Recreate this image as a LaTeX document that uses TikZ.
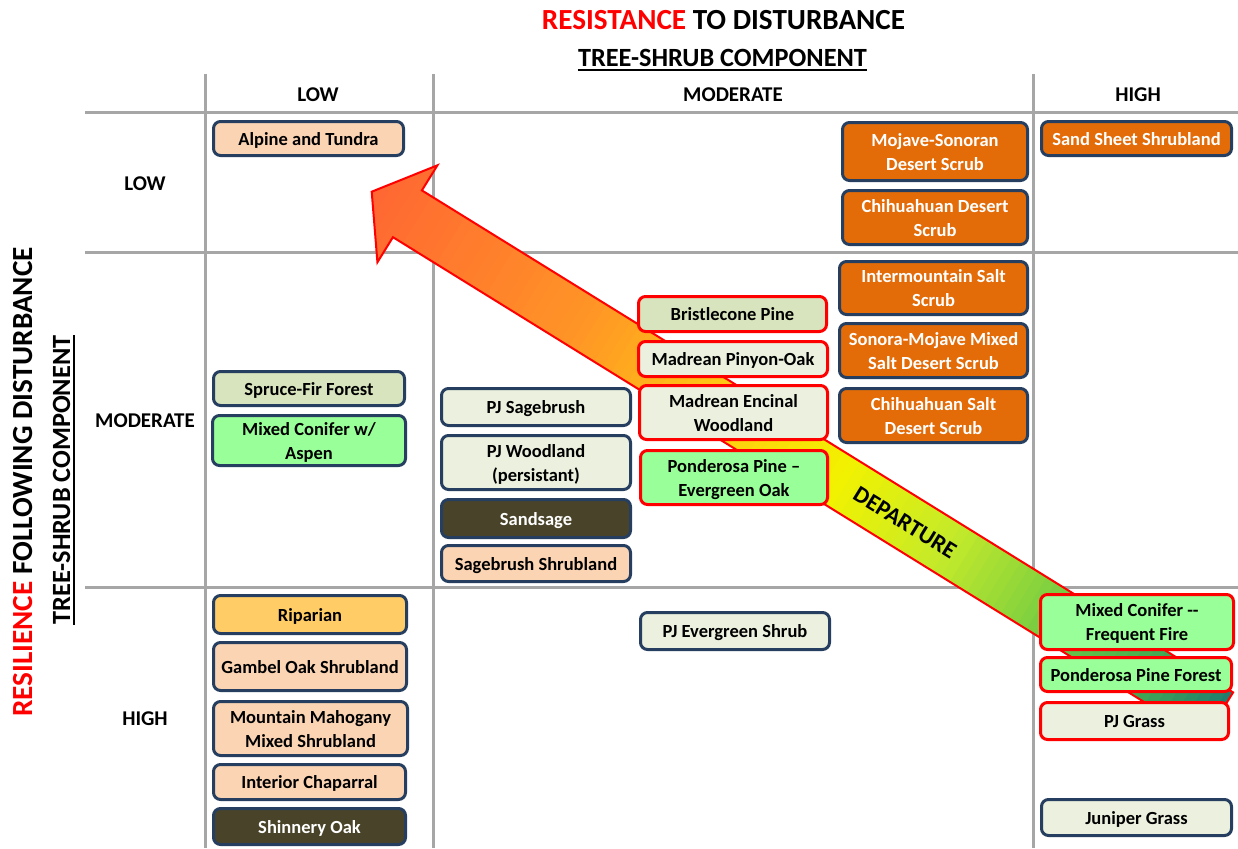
\documentclass[tikz,border=0pt]{standalone}
\usepackage{fontspec}
\setmainfont{Carlito}
\definecolor{navy}{HTML}{263F60}
\definecolor{gridgray}{HTML}{A6A6A6}
\definecolor{peach}{HTML}{FBD4B4}
\definecolor{orng}{HTML}{E36C09}
\definecolor{olive}{HTML}{D7E4BD}
\definecolor{lgreen}{HTML}{99FF99}
\definecolor{pale}{HTML}{EBF1DE}
\definecolor{darkol}{HTML}{494429}
\definecolor{golden}{HTML}{FFCC66}
\definecolor{g0}{HTML}{FF6633}
\definecolor{g1}{HTML}{FF9526}
\definecolor{g2}{HTML}{FFCC11}
\definecolor{g3}{HTML}{F2F200}
\definecolor{g4}{HTML}{C4EA2A}
\definecolor{g5}{HTML}{6CC845}
\definecolor{g6}{HTML}{4AB24E}
\definecolor{g7}{HTML}{1E7A70}
\newcommand\boxfont{\fontsize{18.5}{24}\selectfont\bfseries}
\newcommand\hdrfont{\fontsize{21}{25}\selectfont\bfseries}
\newcommand\ttlfont{\fontsize{29.2}{34}\selectfont\bfseries}
\newcommand\subfont{\fontsize{26.3}{31}\selectfont\bfseries}
\newcommand\topstrut{\rule{0pt}{18.8pt}}
\newcommand\botstrut{\rule[-5.2pt]{0pt}{5.2pt}}
\tikzset{
  gridline/.style={draw=gridgray, line width=3pt},
  bx/.style={rounded corners=7pt, line width=3pt, align=center, inner sep=0pt, font=\boxfont, text=black},
  nb/.style={bx, draw=navy},
  rb/.style={bx, draw=red},
  hdr/.style={font=\hdrfont, inner sep=0pt},
}
\newcommand\bx[8]{\node[#6, fill=#7, minimum width={(#4-#2)*1pt-3pt}, minimum height={(#5-#3)*1pt-3pt}] (#1) at ({(#2+#4)/2},{(#3+#5)/2}) {\topstrut #8\botstrut};}
\newcommand\gseg[5]{\foreach \k in {1,...,#5}{%
  \pgfmathsetmacro\xa{#1+(#2-#1)*(\k-1)/#5}%
  \pgfmathsetmacro\xb{#1+(#2-#1)*\k/#5+1}%
  \pgfmathtruncatemacro\pp{100*(\k-0.5)/#5}%
  \fill[#4!\pp!#3] (\xa,-70) rectangle (\xb,70);}}
\begin{document}
\begin{tikzpicture}[x=1pt,y=-1pt]
\useasboundingbox (0,0) rectangle (1238,848);
\fill[white] (0,0) rectangle (1238,848);
% grid
\draw[gridline] (85,113) -- (1238,113);
\draw[gridline] (85,252) -- (1238,252);
\draw[gridline] (85,587) -- (1238,587);
\draw[gridline] (205,74) -- (205,848);
\draw[gridline] (433,74) -- (433,848);
\draw[gridline] (1033,74) -- (1033,848);
% titles
\node[font=\ttlfont, inner sep=0pt] (title) at (723.5,20.5) {{\color{red}RESISTANCE} TO DISTURBANCE};
\node[font=\subfont, inner sep=0pt] (sub) at (722.5,57.5) {TREE-SHRUB COMPONENT};
\draw[line width=1.8pt] ([yshift=-4pt]sub.base west) -- ([yshift=-4pt]sub.base east);
\node[font=\ttlfont, inner sep=0pt, rotate=90] (vres) at (23,482) {{\color{red}RESILIENCE} FOLLOWING DISTURBANCE};
\node[font=\subfont, inner sep=0pt, rotate=90] (vsub) at (61.5,480) {TREE-SHRUB COMPONENT};
\draw[line width=1.8pt] ([xshift=4pt]vsub.base west) -- ([xshift=4pt]vsub.base east);
% headers
\node[hdr] (cl) at (318,94.5) {LOW};
\node[hdr] (cm) at (733,94.5) {MODERATE};
\node[hdr] (ch) at (1138,94.5) {HIGH};
\node[hdr] (rl) at (145,184) {LOW};
\node[hdr] (rm) at (145,421) {MODERATE};
\node[hdr] (rh) at (145,719) {HIGH};
% arrow
\begin{scope}[shift={(371.7,191.7)}, rotate=-31.75]
  \begin{scope}
    \clip (0,0) -- (42,-57) -- (42,-27.5) -- (996,-27.5) -- (996,27.5) -- (42,27.5) -- (42,57) -- cycle;
    \gseg{-5}{249}{g0}{g1}{26}
    \gseg{249}{418}{g1}{g2}{17}
    \gseg{418}{548}{g2}{g3}{13}
    \gseg{548}{677}{g3}{g4}{13}
    \gseg{677}{817}{g4}{g5}{14}
    \gseg{817}{896}{g5}{g6}{8}
    \gseg{896}{1000}{g6}{g7}{10}
  \end{scope}
  \draw[red, line width=2pt, line join=miter] (0,0) -- (42,-57) -- (42,-27.5) -- (996,-27.5) -- (996,27.5) -- (42,27.5) -- (42,57) -- cycle;
\end{scope}
\node[font=\fontsize{23.5}{28}\selectfont\bfseries, rotate=-31.75, inner sep=0pt] (dep) at (905,523) {DEPARTURE};
% boxes
\bx{alp}{212}{120}{405}{157}{nb}{peach}{Alpine and Tundra}
\bx{moj}{841}{121}{1029}{182}{nb,text=white}{orng}{Mojave-Sonoran\\Desert Scrub}
\bx{chd}{841}{189}{1029}{246}{nb,text=white}{orng}{Chihuahuan Desert\\Scrub}
\bx{sand}{1040}{120}{1233}{157}{nb,text=white}{orng}{Sand Sheet Shrubland}
\bx{ims}{838}{260}{1029}{316}{nb,text=white}{orng}{Intermountain Salt\\Scrub}
\bx{smx}{838}{322}{1029}{379}{nb,text=white}{orng}{Sonora-Mojave Mixed\\Salt Desert Scrub}
\bx{chs}{838}{387}{1029}{444}{nb,text=white}{orng}{Chihuahuan Salt\\Desert Scrub}
\bx{spf}{212}{370}{406}{407}{nb}{olive}{Spruce-Fir Forest}
\bx{mca}{211}{414}{407}{467}{nb}{lgreen}{Mixed Conifer w/\\Aspen}
\bx{pjs}{440}{387}{632}{427}{nb}{pale}{PJ Sagebrush}
\bx{pjw}{440}{434}{632}{491}{nb}{pale}{PJ Woodland\\(persistant)}
\bx{ssg}{440}{498}{632}{539}{nb,text=white}{darkol}{Sandsage}
\bx{sgs}{440}{544}{632}{583}{nb}{peach}{Sagebrush Shrubland}
\bx{brp}{637}{295}{828}{333}{rb}{olive}{Bristlecone Pine}
\bx{mpo}{637}{340}{829}{378}{rb}{pale}{Madrean Pinyon-Oak}
\bx{mew}{638}{384}{829}{441}{rb}{pale}{Madrean Encinal\\Woodland}
\bx{ppe}{639}{449}{829}{506}{rb}{lgreen}{Ponderosa Pine –\\Evergreen Oak}
\bx{rip}{212}{594}{408}{635}{nb}{golden}{Riparian}
\bx{gos}{212}{641}{408}{692}{nb}{peach}{Gambel Oak Shrubland}
\bx{mmm}{212}{700}{409}{757}{nb}{peach}{Mountain Mahogany\\Mixed Shrubland}
\bx{icp}{212}{763}{407}{801}{nb}{peach}{Interior Chaparral}
\bx{sho}{212}{807}{407}{846}{nb,text=white}{darkol}{Shinnery Oak}
\bx{pje}{639}{611}{831}{651}{nb}{pale}{PJ Evergreen Shrub}
\bx{mcf}{1039}{593}{1235}{651}{rb}{lgreen}{Mixed Conifer -{}-\\Frequent Fire}
\bx{ppf}{1039}{656}{1233}{693}{rb}{lgreen}{Ponderosa Pine Forest}
\bx{pjg}{1039}{701}{1230}{741}{rb}{pale}{PJ Grass}
\bx{jug}{1040}{798}{1233}{837}{nb}{pale}{Juniper Grass}
\end{tikzpicture}
\end{document}
